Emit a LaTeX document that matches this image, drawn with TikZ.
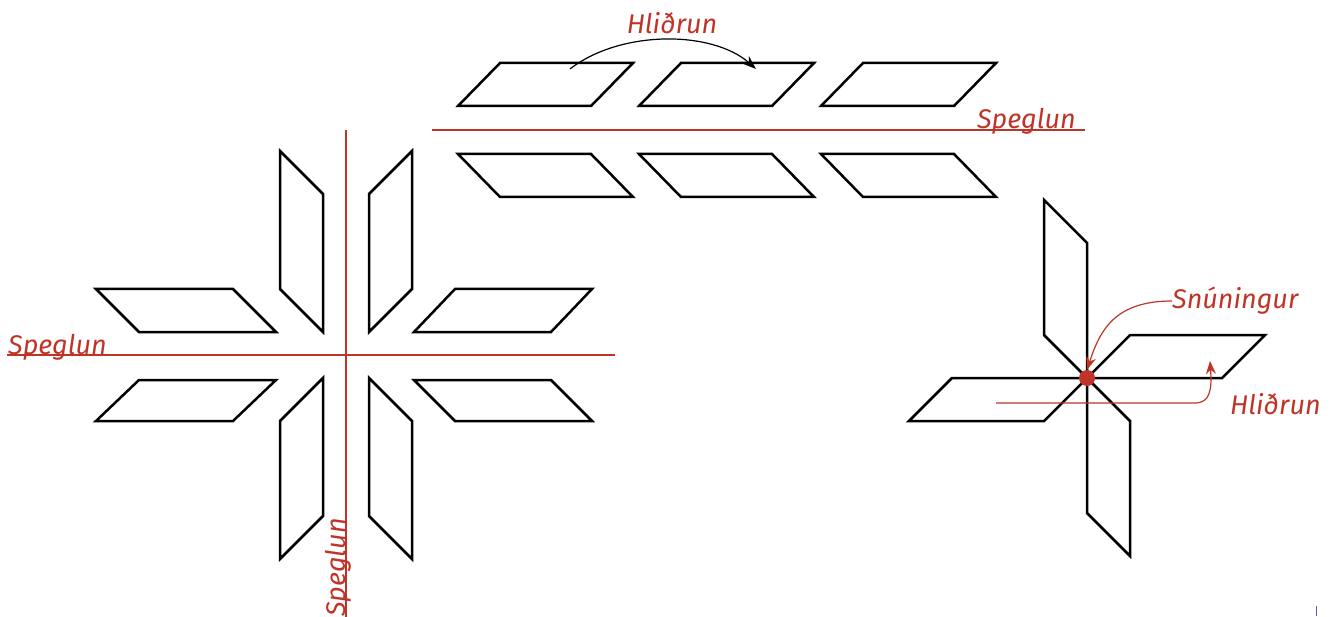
\documentclass[tikz,border=0pt]{standalone}
\usepackage{fontspec}
\setmainfont{Fira Sans}
\usetikzlibrary{arrows.meta}
\definecolor{rd}{RGB}{192,52,40}
\definecolor{bl}{RGB}{90,90,180}
\tikzset{
  pg/.style={draw=black,line width=2.5pt,line join=miter},
  mirror/.style={draw=rd,line width=1.1pt},
  lbl/.style={text=rd,font=\itshape\fontsize{27}{32}\selectfont,inner sep=0pt},
  redarrow/.style={draw=rd,line width=1.2pt,-{Stealth[length=13pt,width=10pt]}},
  blackarrow/.style={draw=black,line width=1.2pt,-{Stealth[length=14pt,width=10pt]}}
}
\begin{document}
\begin{tikzpicture}[x=1pt,y=-1pt]
\useasboundingbox (0,0) rectangle (1337,617);
% top rows
\foreach \d in {0,181,363}{
  \draw[pg] (458+\d,106) -- (591+\d,106) -- (633+\d,63) -- (500+\d,63) -- cycle;
  \draw[pg] (458+\d,154) -- (591+\d,154) -- (633+\d,197) -- (500+\d,197) -- cycle;
}
\draw[mirror] (432,130) -- (1085,130);
\node[lbl,anchor=base east] (sp1) at (1076,129) {Speglun};
\coordinate (h1s) at (570,69);
\coordinate (h1e) at (756,69);
\draw[blackarrow] (h1s) .. controls (620,30) and (712,30) .. (h1e);
\node[lbl] (hl1) at (672,23) {Hliðrun};
% left cross
\draw[pg] (96,289) -- (233,289) -- (276,332) -- (139,332) -- cycle;
\draw[pg] (280,151) -- (323,194) -- (323,332) -- (280,289) -- cycle;
\draw[pg] (412,151) -- (369,194) -- (369,332) -- (412,289) -- cycle;
\draw[pg] (592,289) -- (455,289) -- (414,332) -- (551,332) -- cycle;
\draw[pg] (96,421) -- (233,421) -- (276,380) -- (139,380) -- cycle;
\draw[pg] (280,559) -- (323,516) -- (323,378) -- (280,421) -- cycle;
\draw[pg] (412,559) -- (369,516) -- (369,378) -- (412,421) -- cycle;
\draw[pg] (592,421) -- (455,421) -- (414,380) -- (551,380) -- cycle;
\draw[mirror] (346,130) -- (346,617);
\draw[mirror] (7,355) -- (615,355);
\node[lbl,anchor=base west] (sp2) at (8,354) {Speglun};
\node[lbl,anchor=base west,rotate=90] (sp3) at (345,617) {Speglun};
% pinwheel
\draw[pg] (1087,378) -- (1222,378) -- (1265,335) -- (1130,335) -- cycle;
\draw[pg] (1044,200) -- (1087,243) -- (1087,378) -- (1044,335) -- cycle;
\draw[pg] (1087,378) -- (952,378) -- (909,421) -- (1044,421) -- cycle;
\draw[pg] (1130,556) -- (1087,513) -- (1087,378) -- (1130,421) -- cycle;
\node[circle,fill=rd,minimum size=16pt,inner sep=0pt] (ctr) at (1087,378) {};
\node[lbl,anchor=west] (sn) at (1172,301) {Snúningur};
\draw[redarrow] (sn.west) .. controls (1115,301) and (1100,330) .. (ctr.north);
\node[lbl,anchor=west] (hl2) at (1230,404) {Hliðrun};
\coordinate (h2s) at (996,403);
\coordinate (h2e) at (1210,361);
\draw[redarrow] (h2s) -- (1195,403) .. controls (1210,403) and (1212,390) .. (h2e);
\draw[draw=bl,line width=1pt] (1316,606) -- (1316,616);
\end{tikzpicture}
\end{document}
